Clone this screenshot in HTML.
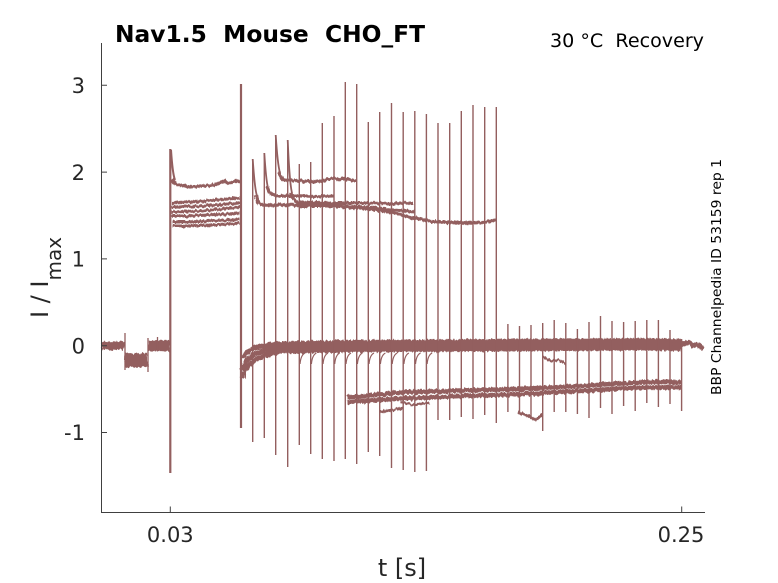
<!DOCTYPE html>
<html><head><meta charset="utf-8"><style>
html,body{margin:0;padding:0;background:#fff;}
svg{display:block;}
text{font-family:"DejaVu Sans","Liberation Sans",sans-serif;}
</style></head><body>
<svg width="778" height="583" viewBox="0 0 778 583" xmlns="http://www.w3.org/2000/svg">
<defs>
  <filter id="nz" filterUnits="userSpaceOnUse" x="0" y="0" width="778" height="583">
    <feTurbulence type="fractalNoise" baseFrequency="0.45 0.08" numOctaves="2" seed="5" result="t"/>
    <feDisplacementMap in="SourceGraphic" in2="t" scale="4" xChannelSelector="R" yChannelSelector="G"/>
  </filter>
</defs>
<rect x="0" y="0" width="778" height="583" fill="#fff"/>

<g fill="none" stroke="#935f5f" stroke-linejoin="round" filter="url(#nz)">
  <!-- pre-step baseline -->
  <path d="M101,346 L106,345 L112,346.5 L118,345 L124,346" stroke-width="8"/>
  <path d="M125,360 L136,360.5 L148,360" stroke-width="14"/>
  <path d="M148,346 L158,345.5 L170,346" stroke-width="11"/>

  <!-- upper band 172-240 -->
  <path d="M172,179 C174,183 176,185 180,185 L190,187 L200,186 L210,185.5 L218,184 L224,180 L227,183 L235,181 L240,181" stroke-width="3.2"/>
  <path d="M172,203 L185,202 L200,201.5 L215,200 L228,199 L240,198" stroke-width="3"/>
  <path d="M172,207 L185,206.5 L200,206 L215,205 L228,204 L240,203" stroke-width="3"/>
  <path d="M172,212 L185,211.5 L200,211 L215,209.5 L228,208.5 L240,207" stroke-width="3"/>
  <path d="M172,216 L185,216 L200,215.5 L215,214.5 L228,214 L240,213" stroke-width="3"/>
  <path d="M172,222 L185,222 L200,221.5 L215,220.5 L228,220 L240,219" stroke-width="3"/>
  <path d="M172,226 L185,226 L200,225.5 L215,225 L228,224 L240,223" stroke-width="3"/>

  <!-- upper traces after 241 -->
  <path d="M279,172 C280,177 282,180 286,180 L300,181 L315,182 L325,180 L335,178.5 L345,179 L352,180.5 L356.5,181" stroke-width="3.2"/>
  <path d="M256,195 C257,201 259,204 263,205 L300,205 L330,205.5 L350,207 L370,209 L390,212 L410,217 L430,221 L450,222.5 L470,223 L485,222 L496,220" stroke-width="3.4"/>
  <path d="M267,186 C268,192 270,195 274,196 L300,196 L320,196.5 L334,196" stroke-width="3"/>
  <path d="M291,192 C292,198 294,201 298,202 L330,203 L360,203 L390,203.5 L413,203" stroke-width="3"/>
  <path d="M299,206 L340,206 L370,207.5 L395,210 L415,212" stroke-width="3"/>

  <!-- zero band after 241 -->
  <path d="M243,358 C246,350 255,346 280,344 L330,342.5 L400,342 L480,341.5 L560,341 L640,340.5 L681,341" stroke-width="4.8"/>
  <path d="M242,370 C246,356 258,350 280,348 L340,346.5 L420,346 L500,345.5 L580,345 L640,344.5 L681,345 L688,342 L693,346 L698,344.5 L703,349" stroke-width="4.8"/>
  <path d="M242,378 C247,362 260,354 282,351.5 L340,350 L420,349.5 L500,349 L580,348.5 L640,348 L681,348.5" stroke-width="4.8"/>
  <path d="M543,356 L550,361 L558,360 L565,363" stroke-width="2.4"/>

  <!-- lower group -->
  <path d="M347,397 L360,396.5 L380,394.5 L400,392.5 L430,391.5 L460,390.5 L500,389.5 L540,388 L580,386 L620,383.5 L650,382 L681,382.5" stroke-width="4.6"/>
  <path d="M347,402 L370,400.5 L400,398.5 L430,397.5 L460,396 L500,395 L540,393 L580,391 L620,388.5 L650,387.5 L681,387.5" stroke-width="4.6"/>
  <path d="M380,412 L392,410 L403,408" stroke-width="2.8"/>
  <path d="M400,402 L415,405 L430,403" stroke-width="2.4"/>
  <path d="M518,412 L528,416 L535,420 L543,414" stroke-width="2.8"/>
</g>

<g fill="none" stroke="#935f5f" stroke-linejoin="round">
  <path d="M125,333V370 M148,338V372 M157.5,337V350" stroke-width="1.3"/>
  <!-- big step spikes -->
  <path d="M170.3,149V473" stroke-width="2.2"/>
  <path d="M241,84V428" stroke-width="2.2"/>
  <!-- overshoot decays -->
  <path d="M171,150 C172,165 173,175 175,180" stroke-width="2"/>
  <path d="M275.7,135 C277,155 278,166 280,173" stroke-width="1.8"/>
  <path d="M252.7,159 C254,178 255,190 257,196" stroke-width="1.8"/>
  <path d="M264.3,153 C265.5,172 266.5,182 268,188" stroke-width="1.8"/>
  <path d="M287.7,140 C289,170 290,185 292,193" stroke-width="1.8"/>

  <!-- recovery hooks on zero band -->
  <path stroke-width="1.2" d="
  M300,364 Q300.8,355 305,353
  M311.4,364 Q312.2,355 316.4,353
  M323,364 Q323.8,355 328,353
  M334.7,364 Q335.5,355 339.7,353
  M346,364 Q346.8,355 351,353
  M357.4,364 Q358.2,355 362.4,353
  M369,364 Q369.8,355 374,353
  M380.4,364 Q381.2,355 385.4,353
  M392.2,364 Q393,355 397.2,353
  M403.9,364 Q404.7,355 408.9,353
  M415.5,364 Q416.3,355 420.5,353
  M427.1,364 Q427.9,355 432.1,353"/>

  <!-- spikes -->
  <path stroke-width="1.4" d="
  M252.7,159V442 M264.3,153V438 M275.7,135V455 M287.7,140V467
  M299.3,164V445 M310.7,162V454 M322.3,123V459 M334,116V461
  M345.3,82V459 M356.7,84V464 M368.3,122V452 M379.7,112V456
  M391.5,103V468 M403.2,112V470 M414.8,111V472 M426.4,114V471
  M438,123V420 M449.7,123V420 M461.3,111V417 M473,105V419
  M484.7,107V415 M496.3,107V423
  M507.9,324V412 M519.5,326V413 M531,325V418 M542.7,323V431
  M554.2,320V412 M565.8,323V412 M577.4,329V414 M589,322V418
  M600.5,316V408 M612,321V414 M623.6,322V406 M635.2,321V411
  M646.8,320V403 M658.4,320V407 M670,330V404 M681.6,339V411"/>
</g>

<!-- axes -->
<g stroke="#404040" stroke-width="1" fill="none">
  <path d="M101.5,43V512.5H705"/>
  <path d="M101.5,85.3H107 M101.5,172.1H107 M101.5,258.9H107 M101.5,345.7H107 M101.5,432.5H107"/>
  <path d="M170.3,512.5V506.5 M681.7,512.5V506.5"/>
</g>

<!-- tick labels -->
<g fill="#262626" font-size="21">
  <text x="85" y="93" text-anchor="end">3</text>
  <text x="85" y="179.8" text-anchor="end">2</text>
  <text x="85" y="266.6" text-anchor="end">1</text>
  <text x="85" y="353.4" text-anchor="end">0</text>
  <text x="85" y="440.2" text-anchor="end">-1</text>
  <text x="170.3" y="542" text-anchor="middle">0.03</text>
  <text x="681" y="542" text-anchor="middle">0.25</text>
</g>

<text x="402" y="576" text-anchor="middle" font-size="24" fill="#262626">t [s]</text>

<text transform="translate(48,277.5) rotate(-90)" text-anchor="middle" font-size="24" fill="#262626">I / I<tspan font-size="20" dy="13">max</tspan></text>

<text x="115" y="42" font-size="23" font-weight="bold" fill="#000" textLength="310" lengthAdjust="spacingAndGlyphs" xml:space="preserve" style="white-space:pre">Nav1.5  Mouse  CHO_FT</text>

<text x="550" y="47" font-size="18.5" fill="#000" textLength="154" lengthAdjust="spacingAndGlyphs" xml:space="preserve" style="white-space:pre">30 °C  Recovery</text>

<text transform="translate(721,277) rotate(-90)" text-anchor="middle" font-size="13.5" fill="#000" textLength="236" lengthAdjust="spacingAndGlyphs">BBP Channelpedia ID 53159 rep 1</text>
</svg>
</body></html>
